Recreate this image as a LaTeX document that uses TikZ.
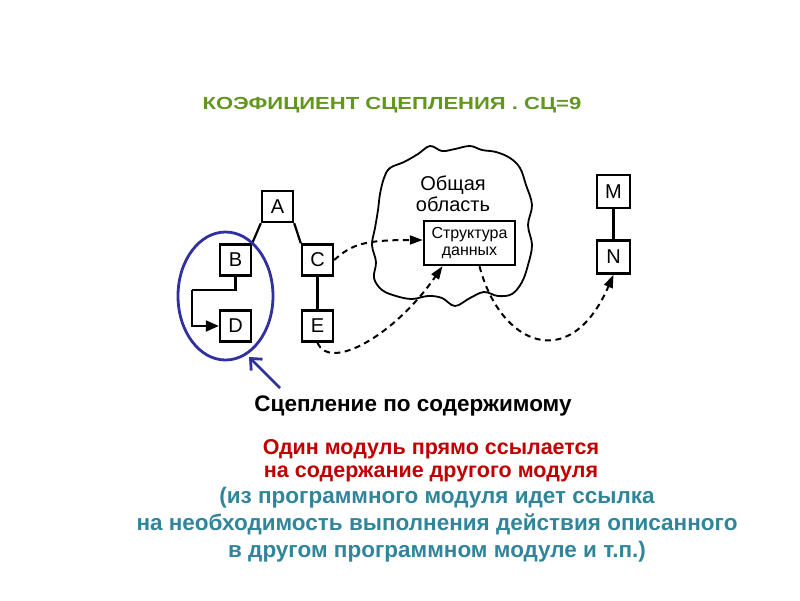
\documentclass[tikz,border=0pt]{standalone}
\usepackage{fontspec}
\setmainfont{Liberation Sans}
\usetikzlibrary{arrows.meta,calc,shapes.geometric}
\definecolor{titlegreen}{RGB}{98,150,30}
\definecolor{darkred}{RGB}{192,0,0}
\definecolor{tealtext}{RGB}{49,133,155}
\definecolor{ovalblue}{RGB}{48,48,160}
\tikzset{
  modbox/.style={draw=black,line width=2.4pt,minimum width=31pt,minimum height=31pt,inner sep=0pt,font=\fontsize{20}{20}\selectfont},
  solidlink/.style={line width=2.2pt},
  dashlink/.style={line width=2pt,dash pattern=on 6pt off 4.5pt,-{Triangle[length=13pt,width=9pt]}},
  txt/.style={font=\bfseries\fontsize{22.5}{24}\selectfont,align=center,inner sep=0pt}
}
\begin{document}
\begin{tikzpicture}[x=1pt,y=-1pt]
\useasboundingbox (0,0) rectangle (800,600);
% title
\node[font=\bfseries\fontsize{17.5}{17.5}\selectfont,text=titlegreen,inner sep=0pt] (title) at (392,105) {\scalebox{1.26}[1]{КОЭФИЦИЕНТ СЦЕПЛЕНИЯ . СЦ=9}};
% cloud
\draw[line width=1.8pt] plot[smooth cycle,tension=0.6] coordinates {
 (384,178) (390,168) (404,162) (418,154) (430,146) (442,151) (455,149) (470,146) (482,150) (496,152) (510,158) (520,168) (526,185) (532,205) (528,225) (532,245) (528,265) (522,282) (512,294) (498,296) (484,292) (470,298) (455,306) (442,298) (428,296) (412,299) (396,296) (382,290) (374,278) (376,262) (372,245) (375,228) (378,210) (380,194)};
\node[font=\fontsize{20}{21}\selectfont,align=center,inner sep=0pt] (area) at (453,194) {Общая\\область};
\node[draw=black,line width=2.4pt,minimum width=91pt,minimum height=44pt,inner sep=0pt,align=center,font=\fontsize{16}{17}\selectfont] (S) at (469.5,243) {Структура\\данных};
% module boxes
\node[modbox] (A) at (277.5,206.5) {A};
\node[modbox] (B) at (235.5,260) {B};
\node[modbox] (C) at (317.5,260) {C};
\node[modbox] (D) at (235.5,326) {D};
\node[modbox] (E) at (317.5,326) {E};
\node[modbox,minimum width=33pt,minimum height=33pt] (M) at (613.5,191.5) {M};
\node[modbox,minimum width=33pt,minimum height=33pt] (N) at (613.5,257) {N};
\coordinate (bd) at (192,290);
% solid links
\draw[solidlink] (A.south west) -- (B.north east);
\draw[solidlink] (A.south east) -- (C.north west);
\draw[solidlink] (C) -- (E);
\draw[solidlink] (M) -- (N);
\draw[solidlink] (B.south) |- (bd);
\draw[solidlink,-{Triangle[length=13pt,width=11pt]}] (bd) |- (D.west);
% dashed links
\draw[dashlink] (C.east) .. controls (352,244) and (365,240) .. ([yshift=3pt]S.west);
\draw[dashlink] (E.south) .. controls (330,372) and (395,335) .. ([xshift=-27pt]S.south);
\draw[dashlink] ([xshift=10pt]S.south) .. controls (500,345) and (570,375) .. (N.south);
% blue oval and arrow
\node[draw=ovalblue,line width=2.8pt,ellipse,minimum width=95pt,minimum height=128pt,inner sep=0pt] (oval) at (225.5,296) {};
\coordinate (arrowfoot) at (280,388);
\draw[ovalblue,line width=2.8pt,-{Straight Barb[length=9pt,width=16pt]}] (arrowfoot) -- (249,357);
% texts
\node[txt,text=black] (t1) at (413,406) {Сцепление по содержимому};
\node[txt,text=darkred,font=\bfseries\fontsize{21.5}{23}\selectfont] (t2) at (431,461) {Один модуль прямо ссылается\\на содержание другого модуля};
\node[txt,text=tealtext,font=\bfseries\fontsize{22.5}{27}\selectfont] (t3) at (437,525) {(из программного модуля идет ссылка\\на необходимость выполнения действия описанного\\в другом программном модуле и т.п.)};
\end{tikzpicture}
\end{document}
